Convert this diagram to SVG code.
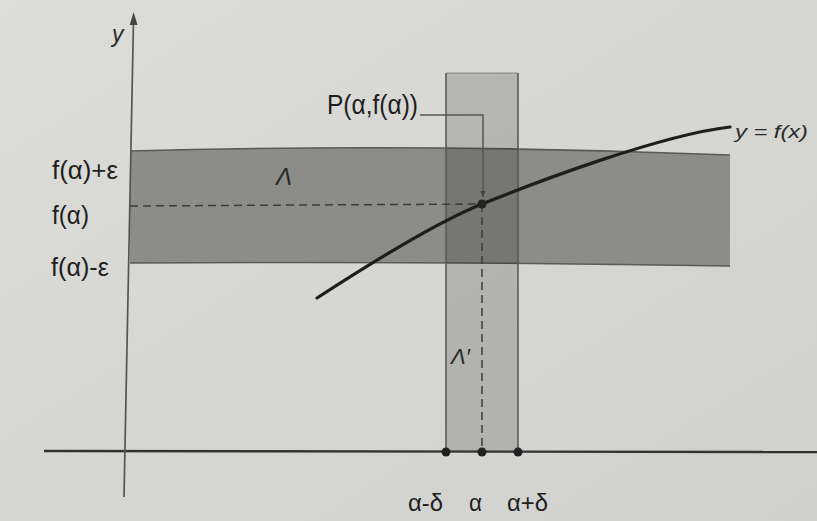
<svg xmlns="http://www.w3.org/2000/svg" width="817" height="521" viewBox="0 0 817 521">
  <defs>
    <linearGradient id="bg" x1="0" y1="0" x2="1" y2="1">
      <stop offset="0" stop-color="#dcdcd8"/>
      <stop offset="1" stop-color="#d0d0cc"/>
    </linearGradient>
    <marker id="arr" viewBox="0 0 10 10" refX="9" refY="5" markerWidth="7" markerHeight="7" orient="auto" markerUnits="userSpaceOnUse">
      <path d="M0,1 L10,5 L0,9 Z" fill="#444"/>
    </marker>
    <style>
      .lbl { font-family: "Liberation Sans", Arial, sans-serif; fill: #1e1e1e; }
      .it { font-family: "Liberation Sans", Arial, sans-serif; font-style: italic; fill: #2a2a2a; }
      .edge { stroke: #5a5a56; stroke-width: 1.6; fill: none; }
      .dash { stroke: #3c3c3c; stroke-width: 1.5; stroke-dasharray: 8 5; fill: none; }
      .dot { fill: #222; }
    </style>
  </defs>

  <rect x="0" y="0" width="817" height="521" fill="url(#bg)"/>

  <g id="band-lambda">
    <path d="M130,151 Q430,143 730,155 L730,266 Q430,261 130,263 Z" fill="#8c8c88"/>
    <path class="edge" d="M130,151 Q430,143 730,155"/>
    <path class="edge" d="M130,263 Q430,261 730,266"/>
  </g>

  <g id="band-lambda-prime">
    <rect x="446" y="73" width="72" height="379" fill="#000" fill-opacity="0.155"/>
    <line class="edge" x1="446" y1="73" x2="446" y2="452"/>
    <line class="edge" x1="518" y1="73" x2="518" y2="452"/>
    <line class="edge" x1="446" y1="73" x2="518" y2="73" stroke-width="1" stroke-opacity="0.4"/>
  </g>

  <g id="axes">
    <line x1="44" y1="451" x2="817" y2="452" stroke="#333" stroke-width="2.4"/>
    <line x1="133.5" y1="20" x2="124" y2="497" stroke="#555" stroke-width="1.7"/>
    <path d="M133.6,12 L137.5,25 L129.7,25 Z" fill="#444"/>
    <text class="it" x="112" y="42" font-size="23" fill="#555">y</text>
  </g>

  <g id="curve">
    <path d="M317,298 C357,272 430,225 482,204 C534,183 660,135 730,127" fill="none" stroke="#1e1e1e" stroke-width="3.2" stroke-linecap="round"/>
    <text class="it" x="735" y="138" font-size="19" textLength="73" lengthAdjust="spacingAndGlyphs">y = f(x)</text>
  </g>

  <g id="connectors">
    <line class="dash" x1="130" y1="206" x2="482" y2="204"/>
    <line class="dash" x1="482" y1="204" x2="482" y2="452"/>
    <path d="M420,115 L483,115 L483,197" fill="none" stroke="#555" stroke-width="1.5" marker-end="url(#arr)"/>
  </g>

  <g id="point-P">
    <circle class="dot" cx="482" cy="204" r="4.5"/>
    <text class="lbl" x="327" y="114" font-size="28" textLength="91" lengthAdjust="spacingAndGlyphs">P(α,f(α))</text>
  </g>

  <g id="x-points">
    <circle class="dot" cx="446" cy="452" r="4.5"/>
    <circle class="dot" cx="482" cy="452" r="4.5"/>
    <circle class="dot" cx="518" cy="452" r="4.5"/>
    <text class="lbl" x="408" y="511" font-size="24" textLength="35" lengthAdjust="spacingAndGlyphs">α-δ</text>
    <text class="lbl" x="469" y="511" font-size="24" textLength="13" lengthAdjust="spacingAndGlyphs">α</text>
    <text class="lbl" x="507" y="511" font-size="24" textLength="41" lengthAdjust="spacingAndGlyphs">α+δ</text>
  </g>

  <g id="y-labels">
    <text class="lbl" x="52" y="179" font-size="26" textLength="66" lengthAdjust="spacingAndGlyphs">f(α)+ε</text>
    <text class="lbl" x="52" y="224" font-size="25" textLength="37" lengthAdjust="spacingAndGlyphs">f(α)</text>
    <text class="lbl" x="51" y="276" font-size="26" textLength="58" lengthAdjust="spacingAndGlyphs">f(α)-ε</text>
  </g>

  <g id="region-labels">
    <text class="it" x="276" y="185" font-size="24">Λ</text>
    <text class="it" x="451" y="364" font-size="22">Λ′</text>
  </g>
</svg>
